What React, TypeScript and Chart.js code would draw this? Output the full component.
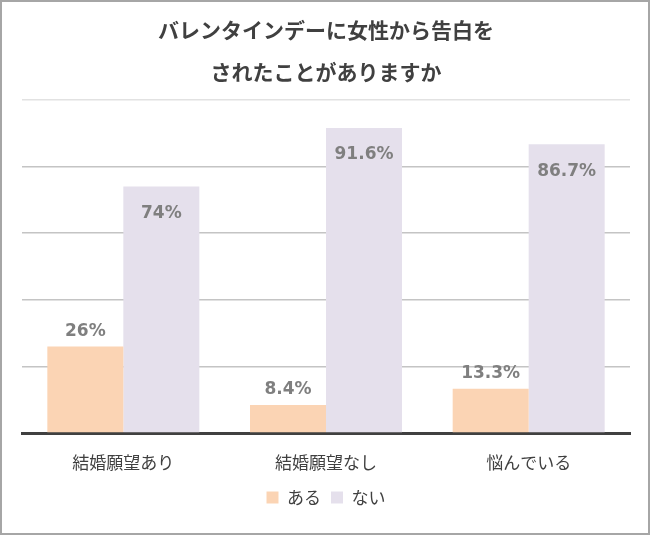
import React, { useEffect, useRef } from "react";
import { Chart, registerables } from "chart.js";

Chart.register(...registerables);

const titleLines = ["バレンタインデーに女性から告白を", "されたことがありますか"];
const categories = ["結婚願望あり", "結婚願望なし", "悩んでいる"];
const seriesNames = ["ある", "ない"];
const aruValues = [26, 8.4, 13.3];
const naiValues = [74, 91.6, 86.7];
const valueLabelsAru = ["26%", "8.4%", "13.3%"];
const valueLabelsNai = ["74%", "91.6%", "86.7%"];
const colors = ["#FBD4B4", "#E5E0EC"];

const JP = "'Noto Sans CJK JP', 'Noto Sans', sans-serif";

const labelPlugin = {
  id: "valueLabels",
  afterDatasetsDraw(chart: any) {
    const ctx = chart.ctx;
    ctx.save();
    ctx.font = "bold 17px 'DejaVu Sans', Verdana, sans-serif";
    ctx.fillStyle = "#7f7f7f";
    ctx.textAlign = "center";
    ctx.textBaseline = "middle";
    const m0 = chart.getDatasetMeta(0);
    m0.data.forEach((el: any, i: number) => {
      ctx.fillText(valueLabelsAru[i], el.x, el.y - 15);
    });
    const m1 = chart.getDatasetMeta(1);
    m1.data.forEach((el: any, i: number) => {
      ctx.fillText(valueLabelsNai[i], el.x, el.y + 27);
    });
    ctx.restore();
  },
};

export default function App() {
  const ref = useRef<HTMLCanvasElement>(null);
  useEffect(() => {
    if (!ref.current) return;
    const chart = new Chart(ref.current, {
      type: "bar",
      data: {
        labels: categories,
        datasets: [
          { label: seriesNames[0], data: aruValues, backgroundColor: colors[0], categoryPercentage: 0.75, barPercentage: 1.0 },
          { label: seriesNames[1], data: naiValues, backgroundColor: colors[1], categoryPercentage: 0.75, barPercentage: 1.0 },
        ],
      },
      options: {
        animation: false,
        responsive: false,
        maintainAspectRatio: false,
        layout: { padding: { left: 20, right: 18, top: 0, bottom: 17 } },
        plugins: {
          title: {
            display: true,
            text: titleLines,
            color: "#404040",
            font: { family: JP, size: 21, weight: "bold", lineHeight: 2.0 },
            padding: { top: 7, bottom: 7 },
          },
          legend: {
            position: "bottom",
            labels: {
              boxWidth: 12,
              boxHeight: 12,
              color: "#404040",
              font: { family: JP, size: 17 },
              padding: 10,
            },
          },
          tooltip: { enabled: false },
        },
        scales: {
          x: {
            grid: { display: false },
            border: { display: true, color: "#404040", width: 3 },
            ticks: { color: "#404040", font: { family: JP, size: 17 }, padding: 11 },
            afterFit: (s: any) => {
              s.height = 46;
            },
          },
          y: {
            min: 0,
            max: 100,
            ticks: { display: false, stepSize: 20 },
            border: { display: false },
            grid: {
              drawTicks: false,
              lineWidth: 1.5,
              color: (c: any) => (c.tick && c.tick.value === 0 ? "rgba(0,0,0,0)" : c.tick && c.tick.value === 100 ? "#e2e2e2" : "#c4c4c4"),
            },
          },
        },
      },
      plugins: [labelPlugin],
    });
    return () => chart.destroy();
  }, []);
  return (
    <div
      style={{
        position: "fixed",
        left: 0,
        top: 0,
        width: 650,
        height: 535,
        boxSizing: "border-box",
        border: "2px solid #a6a6a6",
        background: "#fff",
      }}
    >
      <canvas ref={ref} width={646} height={531} style={{ display: "block", width: 646, height: 531 }} />
    </div>
  );
}
